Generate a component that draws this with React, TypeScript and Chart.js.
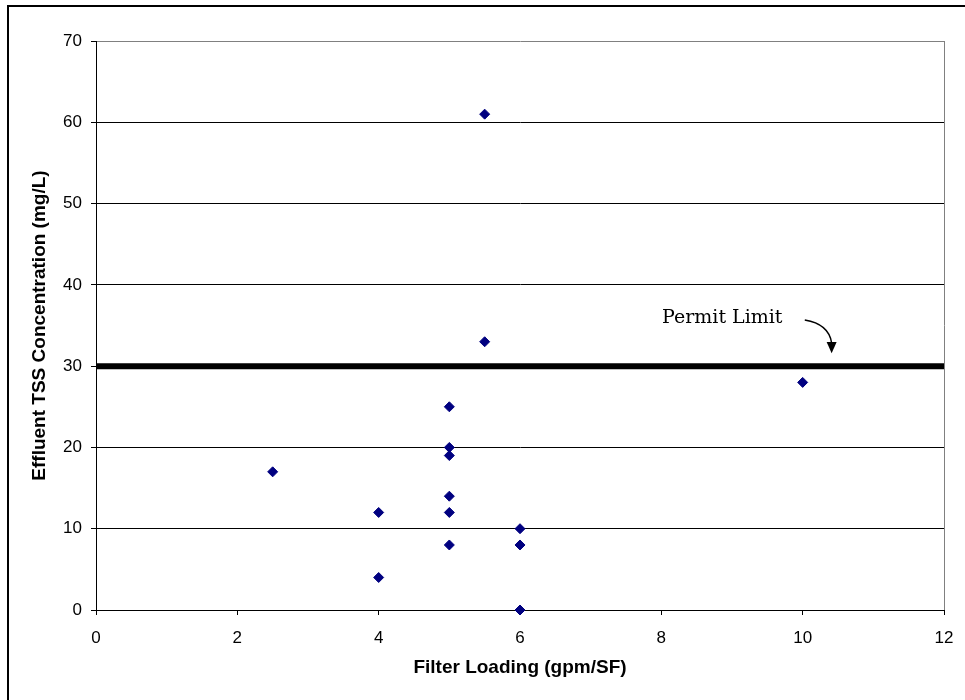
import React, { useEffect, useRef } from "react";
import { Chart, registerables } from "chart.js";

Chart.register(...registerables);

const filterLoading = [2.5, 4, 4, 5, 5, 5, 5, 5, 5, 5.5, 5.5, 6, 6, 6, 10];
const tssValues = [17, 12, 4, 25, 20, 19, 14, 12, 8, 61, 33, 10, 8, 0, 28];
const permitLimit = 30;
const xRange = [0, 12];
const yRange = [0, 70];
const xTitle = "Filter Loading (gpm/SF)";
const yTitle = "Effluent TSS Concentration (mg/L)";
const annotationText = "Permit Limit";

const FONT = "'Liberation Sans', Arial, sans-serif";

const annotationPlugin = {
  id: "permitAnnotation",
  afterDatasetsDraw(chart: any) {
    const { ctx, scales } = chart;
    const xs = scales.x;
    const ys = scales.y;
    const px = (v: number) => xs.getPixelForValue(v);
    const py = (v: number) => ys.getPixelForValue(v);
    ctx.save();
    ctx.fillStyle = "#000";
    ctx.font = "19px 'DejaVu Serif', 'Liberation Serif', serif";
    ctx.textAlign = "left";
    ctx.textBaseline = "alphabetic";
    ctx.fillText(annotationText, px(8.01), py(35.3));
    // curved arrow
    const sx = px(10.03), sy = py(35.67);
    const cx = px(10.37), cy = py(35.18);
    const ex = px(10.41), ey = py(32.97);
    const tipY = py(31.6);
    ctx.strokeStyle = "#000";
    ctx.lineWidth = 1.5;
    ctx.beginPath();
    ctx.moveTo(sx, sy);
    ctx.quadraticCurveTo(cx, cy, ex, ey + 1);
    ctx.stroke();
    ctx.beginPath();
    ctx.moveTo(ex - 5, ey);
    ctx.lineTo(ex + 5, ey);
    ctx.lineTo(ex, tipY);
    ctx.closePath();
    ctx.fill();
    ctx.restore();
  },
};

export default function App() {
  const canvasRef = useRef<HTMLCanvasElement | null>(null);

  useEffect(() => {
    if (!canvasRef.current) return;
    const points = filterLoading.map((x, i) => ({ x, y: tssValues[i] }));
    const chart = new Chart(canvasRef.current, {
      type: "scatter",
      data: {
        datasets: [
          {
            type: "line",
            label: "Permit Limit",
            data: [
              { x: xRange[0], y: permitLimit },
              { x: xRange[1], y: permitLimit },
            ],
            borderColor: "#000",
            borderWidth: 6,
            pointRadius: 0,
            fill: false,
          } as any,
          {
            label: "TSS",
            data: points,
            pointStyle: "rectRot",
            pointRadius: 5,
            pointBackgroundColor: "#000080",
            pointBorderColor: "#000080",
            pointBorderWidth: 1,
            clip: false,
          } as any,
        ],
      },
      options: {
        responsive: false,
        animation: false,
        layout: { padding: { top: 41, right: 21, left: 0, bottom: 0 } },
        plugins: {
          legend: { display: false },
          tooltip: { enabled: false },
        },
        scales: {
          x: {
            type: "linear",
            min: xRange[0],
            max: xRange[1],
            afterFit: (s: any) => {
              s.height = 90;
              s.paddingLeft = 0;
              s.paddingRight = 0;
            },
            ticks: {
              stepSize: 2,
              color: "#000",
              padding: 13,
              font: { family: FONT, size: 17 },
            },
            grid: {
              drawOnChartArea: true,
              color: (c: any) => (c.tick && c.tick.value === xRange[1] ? "#808080" : "rgba(0,0,0,0)"),
              tickColor: "#000",
              tickLength: 5,
            },
            border: { color: "#000", width: 1 },
            title: {
              display: true,
              text: xTitle,
              color: "#000",
              font: { family: FONT, size: 19, weight: "bold" },
              padding: { top: 0, bottom: 21 },
            },
          },
          y: {
            type: "linear",
            min: yRange[0],
            max: yRange[1],
            afterFit: (s: any) => {
              s.width = 96;
              s.paddingTop = 0;
              s.paddingBottom = 0;
            },
            ticks: {
              stepSize: 10,
              color: "#000",
              padding: 9,
              font: { family: FONT, size: 17 },
            },
            grid: {
              color: (c: any) => (c.tick && c.tick.value === yRange[1] ? "#808080" : "#000"),
              tickColor: "#000",
              tickLength: 5,
            },
            border: { color: "#000", width: 1 },
            title: {
              display: true,
              text: yTitle,
              color: "#000",
              font: { family: FONT, size: 19, weight: "bold" },
              padding: { top: 28, bottom: 0 },
            },
          },
        },
      },
      plugins: [annotationPlugin],
    });
    return () => chart.destroy();
  }, []);

  return (
    <div
      style={{
        position: "fixed",
        left: 0,
        top: 0,
        width: 965,
        height: 700,
        overflow: "hidden",
        background: "#fff",
      }}
    >
      <canvas
        ref={canvasRef}
        width={965}
        height={700}
        style={{ position: "absolute", left: 0, top: 0, width: 965, height: 700 }}
      />
      <div
        style={{
          position: "absolute",
          left: 7,
          top: 5,
          width: 1000,
          height: 1000,
          borderLeft: "2px solid #000",
          borderTop: "2px solid #000",
          pointerEvents: "none",
        }}
      />
    </div>
  );
}
